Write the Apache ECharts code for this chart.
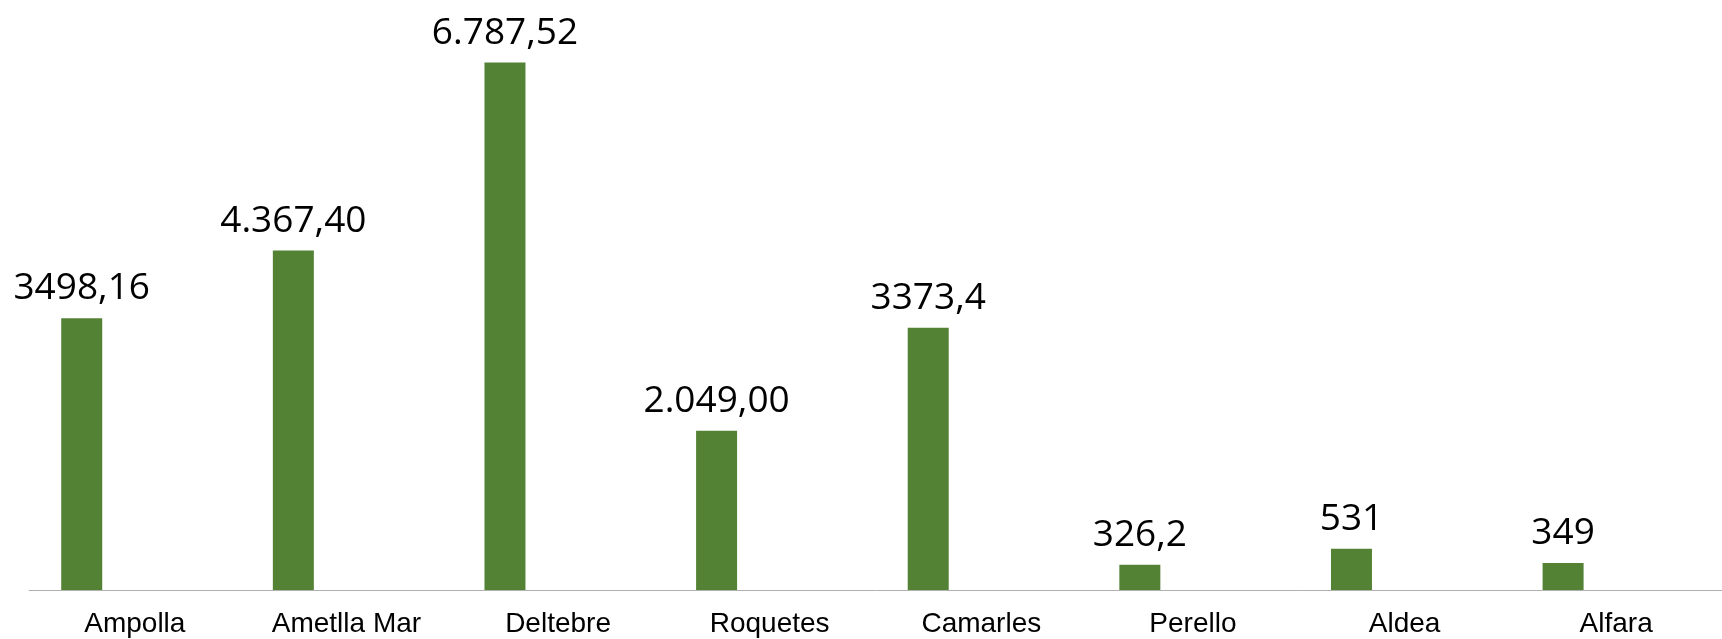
<!DOCTYPE html>
<html>
<head>
<meta charset="utf-8">
<script src="https://cdn.jsdelivr.net/npm/echarts@6/dist/echarts.min.js"></script>
<style>
  html, body { margin: 0; padding: 0; background: #fff; }
  #chart { width: 1722px; height: 639px; }
</style>
</head>
<body>
<div id="chart"></div>
<script>
// categories and values
var towns = ['Ampolla', 'Ametlla Mar', 'Deltebre', 'Roquetes', 'Camarles', 'Perello', 'Aldea', 'Alfara'];
var values = [3498.16, 4367.40, 6787.52, 2049.00, 3373.4, 326.2, 531, 349];
var valueLabels = ['3498,16', '4.367,40', '6.787,52', '2.049,00', '3373,4', '326,2', '531', '349'];
// empty second series, it only keeps the slot to the right of each bar
var emptySeries = ['-', '-', '-', '-', '-', '-', '-', '-'];

var myChart = echarts.init(document.getElementById('chart'));

var option = {
	animation: false,
	grid: {
		left: 29,
		right: 0,
		top: 46,
		bottom: 49,
		containLabel: false
	},
	xAxis: {
		type: 'category',
		data: towns,
		axisLine: { lineStyle: { color: '#b0b0b0', width: 1 } },
		axisTick: { show: false },
		axisLabel: {
			color: '#000',
			fontFamily: 'Liberation Sans',
			fontSize: 28,
			margin: 20
		}
	},
	yAxis: {
		type: 'value',
		min: 0,
		max: 7000,
		show: false,
		splitLine: { show: false }
	},
	series: [
		{
			name: 'valor',
			type: 'bar',
			data: values,
			barWidth: 41,
			barGap: '159%',
			itemStyle: { color: '#548235' },
			label: {
				show: true,
				position: 'top',
				distance: 11,
				color: '#000',
				fontFamily: 'Open Sans',
				fontSize: 37,
				formatter: function (p) {
					return valueLabels[p.dataIndex];
				}
			}
		},
		{
			name: 'buit',
			type: 'bar',
			data: emptySeries,
			barWidth: 41
		}
	]
};

myChart.setOption(option);
</script>
</body>
</html>
